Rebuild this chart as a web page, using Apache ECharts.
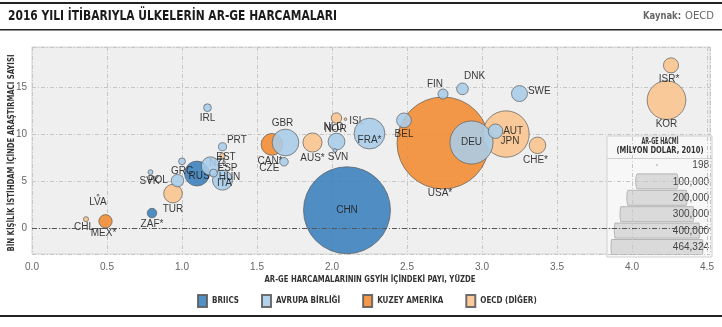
<!DOCTYPE html>
<html><head><meta charset="utf-8">
<script src="https://cdn.jsdelivr.net/npm/echarts@6/dist/echarts.min.js"></script>
<style>html,body{margin:0;padding:0;background:#fff}#c{width:722px;height:327px}</style>
</head><body><div id="c"></div>
<script>
// ---------------- DATA ----------------
const groupNames = ['BRIICS', 'AVRUPA BİRLİĞİ', 'KUZEY AMERİKA', 'OECD (DİĞER)'];

const briicsCodes = ['CHN', 'RUS', 'ZAF'];
const briicsRD    = [2.10, 1.10, 0.80];
const briicsRes   = [1.95, 5.85, 1.65];
const briicsVol   = [415000, 34000, 5000];

const euCodes = ['DEU','FRA','GBR','ITA','ESP','NLD','SWE','BEL','AUT','POL','DNK','FIN','CZE','PRT','HUN','IRL','GRC','SVK','SVN','EST','LVA'];
const euRD    = [2.93, 2.25, 1.69, 1.27, 1.19, 2.03, 3.25, 2.48, 3.09, 0.97, 2.87, 2.74, 1.68, 1.27, 1.21, 1.17, 1.00, 0.79, 2.02, 1.28, 0.44];
const euRes   = [9.15, 10.10, 9.15, 5.15, 6.65, 9.25, 14.35, 11.50, 10.35, 5.10, 14.85, 14.30, 7.10, 8.70, 5.90, 12.85, 7.15, 6.00, 8.30, 7.05, 3.55];
const euVol   = [102000, 52000, 39000, 22000, 18500, 15500, 14000, 12000, 11500, 8500, 7500, 5500, 4000, 3600, 3400, 3300, 2500, 1300, 800, 400, 200];

const naCodes = ['USA', 'CAN', 'MEX'];
const naRD    = [2.74, 1.60, 0.49];
const naRes   = [9.10, 8.95, 0.78];
const naVol   = [464324, 26000, 9700];

const oecdCodes = ['JPN','KOR','AUS','TUR','CHE','ISR','NOR','NZL','CHL','ISL'];
const oecdRD    = [3.16, 4.23, 1.87, 0.94, 3.37, 4.26, 2.03, 1.27, 0.36, 2.09];
const oecdRes   = [10.05, 13.65, 9.15, 3.72, 8.85, 17.35, 11.75, 7.75, 1.00, 11.63];
const oecdVol   = [118000, 82000, 20000, 19000, 15000, 12500, 6000, 1600, 1400, 400];

const starred = ['ZAF','MEX','CAN','AUS','FRA','USA','CHE','ISR'];

const xTicks = [0, 0.5, 1, 1.5, 2, 2.5, 3, 3.5, 4, 4.5];
const yTicks = [0, 5, 10, 15];

const sizeLegendVals   = [198, 100000, 200000, 300000, 400000, 464324];
const sizeLegendLabels = ['198', '100,000', '200,000', '300,000', '400,000', '464,324'];

// ---------------- STYLE ----------------
const colors = ['#3a7fbc', '#a9cdea', '#f28b30', '#fcc48d'];
const MAXVOL = 464324, MAXD = 92;
const sizeOf = v => MAXD * Math.sqrt(v / MAXVOL);

// [position, dx, dy]
const labelPlace = {
  CHN:['inside',0,0], RUS:['inside',2,3], ZAF:['bottom',0,0],
  DEU:['inside',0,0], FRA:['inside',0,7], GBR:['top',-3,0], ITA:['inside',2,3], ESP:['inside',17,2],
  NLD:['top',-3,0], SWE:['right',0,-2], BEL:['bottom',0,0], AUT:['right',0,0], POL:['left',-3,0],
  DNK:['top',12,0], FIN:['top',-8,2], CZE:['left',0,6], PRT:['right',0,-6], HUN:['inside',16,4],
  IRL:['bottom',0,0], GRC:['bottom',0,0], SVK:['bottom',-1,0], SVN:['bottom',3,-2], EST:['inside',2,-5], LVA:['bottom',0,0],
  USA:['bottom',-3,-2], CAN:['bottom',-2,0], MEX:['bottom',-2,-1],
  JPN:['inside',4,7], KOR:['bottom',0,-2], AUS:['bottom',0,0], TUR:['bottom',0,0], CHE:['bottom',-2,0],
  ISR:['bottom',-2,0], NOR:['bottom',-1,0], NZL:['inside',-4,8], CHL:['bottom',-2,-1], ISL:['right',2,2]
};

function buildSeries(name, codes, xs, ys, vols, color, z) {
  return {
    type: 'scatter', name: name, z: z,
    data: codes.map((c, i) => {
      const L = labelPlace[c] || ['bottom', 0, 0];
      return { name: c, value: [xs[i], ys[i], vols[i]], label: { position: L[0], offset: [L[1], L[2]] } };
    }),
    symbolSize: v => sizeOf(v[2]),
    itemStyle: { color: color, opacity: 0.88, borderColor: '#5c5c5c', borderWidth: 0.8 },
    label: {
      show: true, distance: 0, fontSize: 10, lineHeight: 12, fontFamily: 'Liberation Sans', color: '#1e1e1e',
      formatter: p => p.name + (starred.includes(p.name) ? '*' : '')
    },
    emphasis: { disabled: true }
  };
}

const ctx = document.createElement('canvas').getContext('2d');
function fitScale(text, font, target) { ctx.font = font; return target / ctx.measureText(text).width; }

function txt(text, x, y, font, fill, align, target, rot) {
  const el = { type: 'text', x: x, y: y, silent: true,
    style: { text: text, font: font, fill: fill, textAlign: align, textVerticalAlign: 'middle', align: align, verticalAlign: 'middle' } };
  if (target) el.scaleX = fitScale(text, font, target);
  if (rot) el.rotation = rot;
  return el;
}

const graphics = [];
graphics.push({ type: 'rect', shape: { x: 0, y: 2, width: 722, height: 2 }, style: { fill: '#222' }, silent: true });
graphics.push({ type: 'rect', shape: { x: 0, y: 29, width: 722, height: 1.5 }, style: { fill: '#222' }, silent: true });
graphics.push({ type: 'rect', shape: { x: 0, y: 315, width: 722, height: 2 }, style: { fill: '#222' }, silent: true });
graphics.push(txt('2016 YILI İTİBARIYLA ÜLKELERİN AR-GE HARCAMALARI', 8, 16.5, 'bold 14px "DejaVu Sans"', '#1a1a1a', 'left', 329));
graphics.push(txt('OECD', 714, 16.5, '11px "DejaVu Sans"', '#666', 'right', 29));
graphics.push(txt('Kaynak:', 681, 16.5, 'bold 11px "DejaVu Sans"', '#666', 'right', 38));
graphics.push(txt('BİN KİŞİLİK İSTİHDAM İÇİNDE ARAŞTIRMACI SAYISI', 12, 153, 'bold 9px "DejaVu Sans"', '#333', 'center', 197, Math.PI / 2));
graphics.push(txt('AR-GE HARCAMALARININ GSYİH İÇİNDEKİ PAYI, YÜZDE', 370, 280, 'bold 9px "DejaVu Sans"', '#333', 'center', 211));

// size legend box
const boxX = 607, boxY = 136, boxW = 105, boxH = 121;
graphics.push({ type: 'rect', shape: { x: boxX, y: boxY, width: boxW, height: boxH }, style: { fill: '#f7f7f7', stroke: '#d0d0d0', lineWidth: 1 }, silent: true });
graphics.push({ type: 'line', shape: { x1: boxX, y1: 158.5, x2: boxX + boxW, y2: 158.5 }, style: { stroke: '#d0d0d0', lineWidth: 1 }, silent: true });
graphics.push(txt('AR-GE HACMİ', 660, 142, 'bold 9px "DejaVu Sans"', '#333', 'center', 37));
graphics.push(txt('(MİLYON DOLAR, 2010)', 660, 151, 'bold 9px "DejaVu Sans"', '#333', 'center', 87));
const cxL = 657, rowH = 15;
sizeLegendVals.forEach((v, i) => {
  const cy = 165 + i * 16.4;
  const r = sizeOf(v) / 2;
  if (r <= rowH / 2) {
    graphics.push({ type: 'circle', shape: { cx: cxL, cy: cy, r: Math.max(r, 0.9) }, style: { fill: '#bdbdbd' }, silent: true });
  } else {
    const pts = [];
    const h = rowH / 2, n = 12;
    for (let k = 0; k <= n; k++) { const dy = -h + 2 * h * k / n; pts.push([cxL + Math.sqrt(r * r - dy * dy), cy + dy]); }
    for (let k = n; k >= 0; k--) { const dy = -h + 2 * h * k / n; pts.push([cxL - Math.sqrt(r * r - dy * dy), cy + dy]); }
    graphics.push({ type: 'polygon', shape: { points: pts }, style: { fill: '#dadada', stroke: '#b4b4b4', lineWidth: 1 }, silent: true });
  }
  graphics.push(txt(sizeLegendLabels[i], 709, cy + 0.5, '10px "Liberation Sans"', '#444', 'right'));
});

const series = [
  buildSeries(groupNames[0], briicsCodes, briicsRD, briicsRes, briicsVol, colors[0], 3),
  buildSeries(groupNames[1], euCodes, euRD, euRes, euVol, colors[1], 4),
  buildSeries(groupNames[2], naCodes, naRD, naRes, naVol, colors[2], 2),
  buildSeries(groupNames[3], oecdCodes, oecdRD, oecdRes, oecdVol, colors[3], 2)
];
series.push({
  type: 'scatter', name: 'zero', data: [], z: 1, silent: true,
  markLine: { silent: true, symbol: 'none', label: { show: false }, animation: false,
    lineStyle: { color: '#555', width: 1, type: [5, 2, 1, 2] }, data: [{ yAxis: 0 }] }
});

const chart = echarts.init(document.getElementById('c'), null, { renderer: 'canvas' });
chart.setOption({
  animation: false,
  backgroundColor: '#fff',
  grid: { left: 32, right: 12, top: 47, bottom: 73, show: true, backgroundColor: '#efefef', borderColor: '#d4d4d4', borderWidth: 1 },
  xAxis: {
    type: 'value', min: 0, max: 4.52, interval: 0.5,
    axisLine: { show: false }, axisTick: { show: false },
    axisLabel: { showMaxLabel: false, color: '#666', fontSize: 10, fontFamily: 'Liberation Sans', margin: 8,
      formatter: v => (xTicks.some(t => Math.abs(t - v) < 1e-6) ? v.toFixed(1) : '') },
    splitLine: { lineStyle: { color: '#c6c6c6', width: 1, type: [4, 2, 1, 2] } }
  },
  yAxis: {
    type: 'value', min: -2.7, max: 19.3, splitNumber: 5,
    axisLine: { show: false }, axisTick: { show: false },
    axisLabel: { showMinLabel: false, showMaxLabel: false, color: '#666', fontSize: 10, fontFamily: 'Liberation Sans', margin: 5,
      formatter: v => (yTicks.some(t => Math.abs(t - v) < 1e-6) ? String(v) : '') },
    splitLine: { lineStyle: { color: '#c6c6c6', width: 1, type: [4, 2, 1, 2] } }
  },
  legend: {
    data: groupNames, left: 197, top: 294, padding: 0, icon: 'rect', itemWidth: 9, itemHeight: 12, itemGap: 22,
    selectedMode: false,
    textStyle: { fontFamily: 'DejaVu Sans Condensed', fontWeight: 'bold', fontSize: 8, color: '#333' }
  },
  series: series,
  graphic: { elements: graphics }
});
</script></body></html>
